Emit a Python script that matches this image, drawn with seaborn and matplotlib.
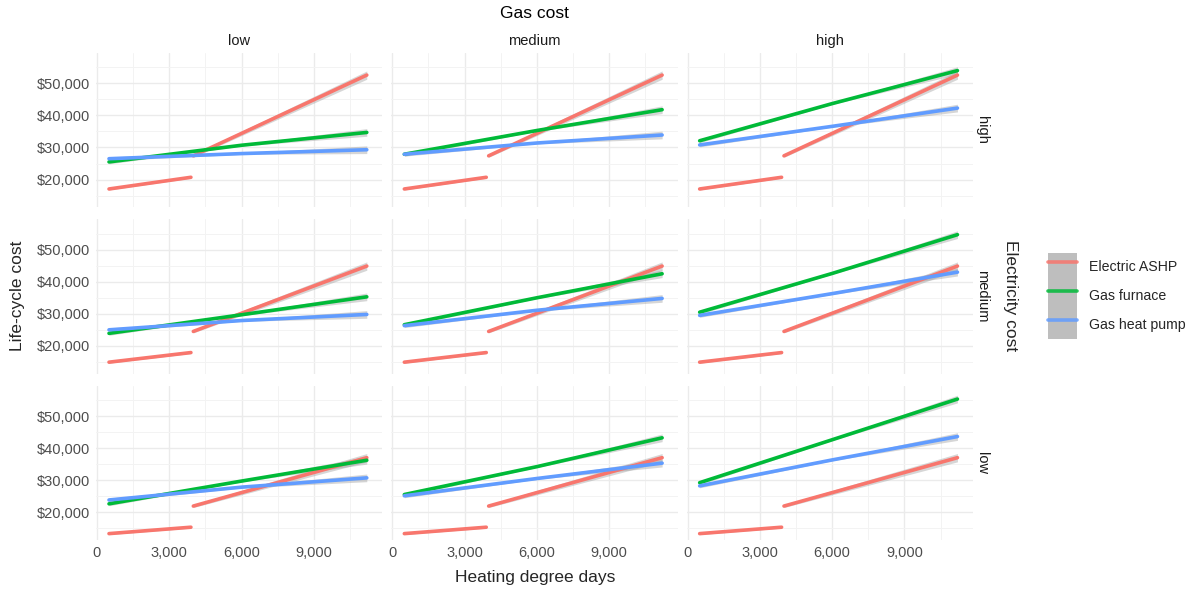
import matplotlib
matplotlib.use("Agg")
import matplotlib.pyplot as plt
from matplotlib.ticker import FuncFormatter, MultipleLocator
from matplotlib.lines import Line2D
from matplotlib.patches import Patch
from matplotlib.legend_handler import HandlerTuple
import seaborn as sns
import pandas as pd

# facet levels
gas_levels = ["low", "medium", "high"]
elec_levels = ["high", "medium", "low"]
systems = ["Electric ASHP", "Gas furnace", "Gas heat pump"]
colors = ["#F8766D", "#00BA38", "#619CFF"]

x_full = [500, 6000, 11200]
x_ashp_low = [500, 3900]
x_ashp_high = [4000, 11200]

# Electric ASHP (same in every gas column), by electricity cost row
ashp_low_seg = [[17050, 20700], [14900, 17900], [13300, 15300]]
ashp_high_seg = [[27400, 52600], [24500, 44900], [21900, 37000]]

# Gas furnace, rows = electricity high/medium/low, cols = gas low/medium/high
furnace_elec_high = [[25500, 30700, 34700], [27900, 35300, 41800], [32100, 43700, 54000]]
furnace_elec_medium = [[23900, 29700, 35300], [26600, 35000, 42500], [30500, 42600, 54700]]
furnace_elec_low = [[22600, 29700, 36200], [25500, 34200, 43200], [29200, 42600, 55300]]

# Gas heat pump
hp_elec_high = [[26500, 28100, 29300], [27900, 31400, 33900], [30800, 36600, 42300]]
hp_elec_medium = [[25000, 27900, 29800], [26300, 31100, 34800], [29500, 36300, 43000]]
hp_elec_low = [[23800, 27800, 30700], [25100, 30500, 35300], [28200, 36300, 43600]]

# confidence band half widths
band_full = [600, 250, 1200]
band_ashp_low = [300, 300]
band_ashp_high = [450, 1300]

furnace_rows = [furnace_elec_high, furnace_elec_medium, furnace_elec_low]
hp_rows = [hp_elec_high, hp_elec_medium, hp_elec_low]

rows = []
def add(elec, gas, system, seg, xs, ys, bands):
    for x, y, b in zip(xs, ys, bands):
        rows.append(dict(elec=elec, gas=gas, system=system, segment=seg,
                         hdd=x, cost=y, lo=y - b, hi=y + b))

for i, elec in enumerate(elec_levels):
    for j, gas in enumerate(gas_levels):
        add(elec, gas, "Electric ASHP", "a", x_ashp_low, ashp_low_seg[i], band_ashp_low)
        add(elec, gas, "Electric ASHP", "b", x_ashp_high, ashp_high_seg[i], band_ashp_high)
        add(elec, gas, "Gas furnace", "a", x_full, furnace_rows[i][j], band_full)
        add(elec, gas, "Gas heat pump", "a", x_full, hp_rows[i][j], band_full)
df = pd.DataFrame(rows)

sns.set_theme(style="whitegrid")
plt.rcParams["font.family"] = ["Liberation Sans", "DejaVu Sans"]

fig, axes = plt.subplots(3, 3, figsize=(11.94, 5.92), dpi=100, sharex=True, sharey=True)
fig.subplots_adjust(left=0.0804, right=0.815, top=0.9105, bottom=0.0878,
                    wspace=0.031, hspace=0.077)

palette = dict(zip(systems, colors))

for i, elec in enumerate(elec_levels):
    for j, gas in enumerate(gas_levels):
        ax = axes[i, j]
        sub = df[(df.elec == elec) & (df.gas == gas)]
        for (sysname, seg), g in sub.groupby(["system", "segment"]):
            ax.fill_between(g.hdd, g.lo, g.hi, color="#999999", alpha=0.4, lw=0, zorder=2)
        sns.lineplot(data=sub, x="hdd", y="cost", hue="system", units="segment",
                     estimator=None, palette=palette, hue_order=systems,
                     linewidth=2.6, legend=False, sort=False, ax=ax, zorder=3)
        ax.set_xlabel("")
        ax.set_ylabel("")
        ax.set_facecolor("white")
        for s in ax.spines.values():
            s.set_visible(False)
        ax.xaxis.set_major_locator(MultipleLocator(3000))
        ax.xaxis.set_minor_locator(MultipleLocator(1500))
        ax.yaxis.set_major_locator(MultipleLocator(10000))
        ax.yaxis.set_minor_locator(MultipleLocator(5000))
        ax.grid(which="major", color="#EBEBEB", linewidth=1.0)
        ax.grid(which="minor", color="#F3F3F3", linewidth=0.7)
        ax.tick_params(which="both", length=0, labelsize=10.5, labelcolor="#4D4D4D", pad=4)
        if i == 0:
            ax.set_title(gas, fontsize=10.5, color="#1A1A1A", pad=6)
        if j == 2:
            ax.text(1.03, 0.5, elec, transform=ax.transAxes, rotation=270,
                    ha="center", va="center", fontsize=10.5, color="#1A1A1A")

axes[0, 0].set_xlim(-40, 11850)
axes[0, 0].set_ylim(11300, 59500)
axes[0, 0].yaxis.set_major_formatter(FuncFormatter(lambda v, p: f"${v:,.0f}"))
axes[0, 0].xaxis.set_major_formatter(FuncFormatter(lambda v, p: f"{v:,.0f}"))

fig.text(0.448, 0.977, "Gas cost", ha="center", va="center", fontsize=12.5, color="#000000")
fig.text(0.448, 0.024, "Heating degree days", ha="center", va="center", fontsize=12.5)
fig.text(0.015, 0.5, "Life-cycle cost", rotation=90, ha="center", va="center", fontsize=12.5)
fig.text(0.846, 0.5, "Electricity cost", rotation=270, ha="center", va="center", fontsize=12.5)

handles = [(Patch(facecolor="#BEBEBE", edgecolor="none"),
            Line2D([], [], color=c, lw=2.6, alpha=0.85)) for c in colors]
fig.legend(handles, systems, handler_map={tuple: HandlerTuple(ndivide=1, pad=0)},
           loc="center left", bbox_to_anchor=(0.8715, 0.5), frameon=False,
           fontsize=10.2, handlelength=2.1, handleheight=2.75, labelspacing=0,
           handletextpad=0.8, borderpad=0)

fig.savefig("out.png", dpi=100)
